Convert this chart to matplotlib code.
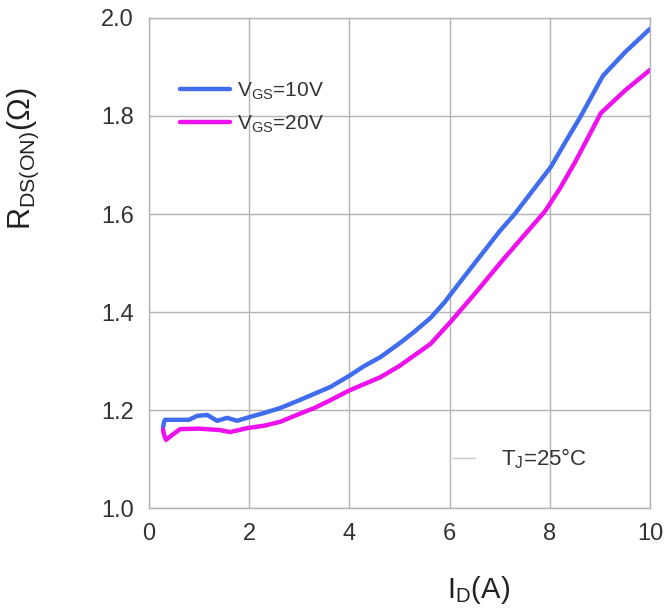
import matplotlib
matplotlib.use("Agg")
import matplotlib.pyplot as plt
from matplotlib.lines import Line2D

plt.rcParams['font.family'] = ['Liberation Sans', 'DejaVu Sans']
plt.rcParams['mathtext.fontset'] = 'custom'
plt.rcParams['mathtext.rm'] = 'Liberation Sans'
plt.rcParams['mathtext.it'] = 'Liberation Sans'

# VGS = 10V curve
vgs10_id = [0.28, 0.30, 0.32, 0.50, 0.80, 0.96, 1.16, 1.36, 1.56, 1.76, 2.02, 2.30,
            2.62, 3.00, 3.30, 3.62, 4.00, 4.30, 4.62, 5.00, 5.30, 5.62, 5.90, 6.20,
            6.55, 7.00, 7.30, 7.60, 8.02, 8.30, 8.62, 9.06, 9.50, 10.0]
vgs10_r = [1.165, 1.175, 1.180, 1.180, 1.180, 1.188, 1.190, 1.178, 1.184, 1.178, 1.186, 1.194,
           1.204, 1.220, 1.233, 1.247, 1.270, 1.290, 1.308, 1.336, 1.360, 1.388, 1.420, 1.460,
           1.506, 1.565, 1.600, 1.640, 1.696, 1.745, 1.800, 1.882, 1.930, 1.978]

# VGS = 20V curve
vgs20_id = [0.28, 0.30, 0.34, 0.45, 0.62, 1.00, 1.42, 1.62, 1.96, 2.30, 2.62, 3.00,
            3.30, 3.62, 4.00, 4.62, 5.00, 5.62, 6.02, 6.50, 7.06, 7.50, 7.90, 8.20,
            8.50, 9.02, 9.50, 10.0]
vgs20_r = [1.160, 1.150, 1.139, 1.148, 1.161, 1.162, 1.159, 1.155, 1.163, 1.168, 1.176, 1.192,
           1.204, 1.220, 1.240, 1.267, 1.290, 1.335, 1.380, 1.437, 1.506, 1.558, 1.605, 1.652,
           1.705, 1.806, 1.852, 1.894]

xticks = [0, 2, 4, 6, 8, 10]
yticks = [1.0, 1.2, 1.4, 1.6, 1.8, 2.0]

fig = plt.figure(figsize=(6.66, 6.10), dpi=100)
ax = fig.add_axes([0.2237, 0.1672, 0.7523, 0.8033])

ln10, = ax.plot(vgs10_id, vgs10_r, color='#3f6ded', lw=3.2, solid_capstyle='round')
ln20, = ax.plot(vgs20_id, vgs20_r, color='#ee11ee', lw=3.2, solid_capstyle='round')

ax.set_xlim(0, 10)
ax.set_ylim(1.0, 2.0)
ax.set_xticks(xticks)
ax.set_yticks(yticks)
ax.set_xticklabels([str(v) for v in xticks])
ax.set_yticklabels([f'{v:.1f}' for v in yticks])
ax.grid(True, color='#b4b4b4', lw=1.0)
ax.set_axisbelow(True)
for s in ax.spines.values():
    s.set_color('#b4b4b4')
    s.set_linewidth(1.0)
ax.tick_params(length=0, labelsize=17, colors='#333333', pad=11)

leg = ax.legend([ln10, ln20], [r'V$_{\mathregular{GS}}$=10V', r'V$_{\mathregular{GS}}$=20V'],
                loc='upper left', bbox_to_anchor=(0.061, 0.872), frameon=False,
                fontsize=15, handlelength=2.4, handletextpad=0.35, labelspacing=0.55,
                borderpad=0, borderaxespad=0)
for t in leg.get_texts():
    t.set_color('#333333')
ax.add_artist(leg)

tj_handle = Line2D([], [], color='#c8c8c8', lw=1.0)
ax.legend([tj_handle], [r'T$_{\mathregular{J}}$=25°C'], loc='upper left',
          bbox_to_anchor=(0.606, 0.125), frameon=False, fontsize=16,
          handlelength=1.0, handletextpad=1.2, borderpad=0, borderaxespad=0,
          labelcolor='#333333')

fig.text(0.035, 0.74, r'R$_{\mathregular{DS(ON)}}$($\Omega$)', rotation=90,
         ha='center', va='center', fontsize=22, color='#222222')
fig.text(0.718, 0.032, r'I$_{\mathregular{D}}$(A)', ha='center', va='center',
         fontsize=21, color='#222222')

fig.savefig('out.png', dpi=100)
